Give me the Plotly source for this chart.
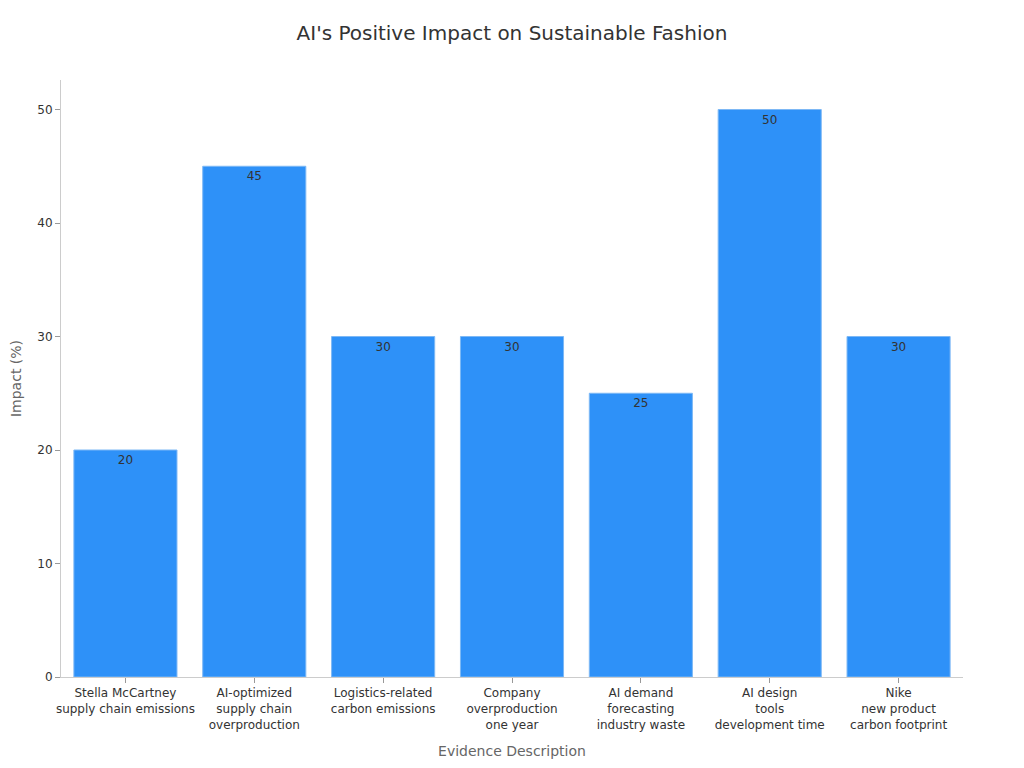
import plotly.graph_objects as go

categories = [
    "Stella McCartney<br>supply chain emissions",
    "AI-optimized<br>supply chain<br>overproduction",
    "Logistics-related<br>carbon emissions",
    "Company<br>overproduction<br>one year",
    "AI demand<br>forecasting<br>industry waste",
    "AI design<br>tools<br>development time",
    "Nike<br>new product<br>carbon footprint",
]
values = [20, 45, 30, 30, 25, 50, 30]
y_ticks = [0, 10, 20, 30, 40, 50]

fig = go.Figure(
    go.Bar(
        x=categories,
        y=values,
        text=[str(v) for v in values],
        textposition="inside",
        insidetextanchor="end",
        textfont=dict(family="DejaVu Sans", size=12, color="#333333"),
        marker=dict(color="#2E91F8", line=dict(color="#7DB8F5", width=1)),
        hoverinfo="x+y",
    )
)

fig.update_layout(
    width=1008,
    height=752,
    paper_bgcolor="white",
    plot_bgcolor="white",
    font=dict(family="DejaVu Sans", size=12, color="#333333"),
    title=dict(
        text="AI's Positive Impact on Sustainable Fashion",
        x=0.5,
        xanchor="center",
        y=0.967,
        yanchor="middle",
        font=dict(family="DejaVu Sans", size=20, color="#333333"),
    ),
    margin=dict(l=53, r=53, t=72, b=83),
    bargap=0.2,
    showlegend=False,
    xaxis=dict(
        title=dict(text="Evidence Description", font=dict(size=14, color="#666666"), standoff=15),
        automargin=False,
        showline=True,
        linecolor="#cccccc",
        ticks="outside",
        tickcolor="#999999",
        ticklen=5,
        showgrid=False,
        tickfont=dict(size=12, color="#333333"),
    ),
    yaxis=dict(
        title=dict(text="Impact (%)", font=dict(size=14, color="#666666"), standoff=22),
        automargin=False,
        range=[0, 52.6],
        tickvals=y_ticks,
        showline=True,
        linecolor="#cccccc",
        ticks="outside",
        tickcolor="#999999",
        ticklen=5,
        showgrid=False,
        zeroline=False,
        tickfont=dict(size=12, color="#333333"),
    ),
)

fig.write_html("out.html")
